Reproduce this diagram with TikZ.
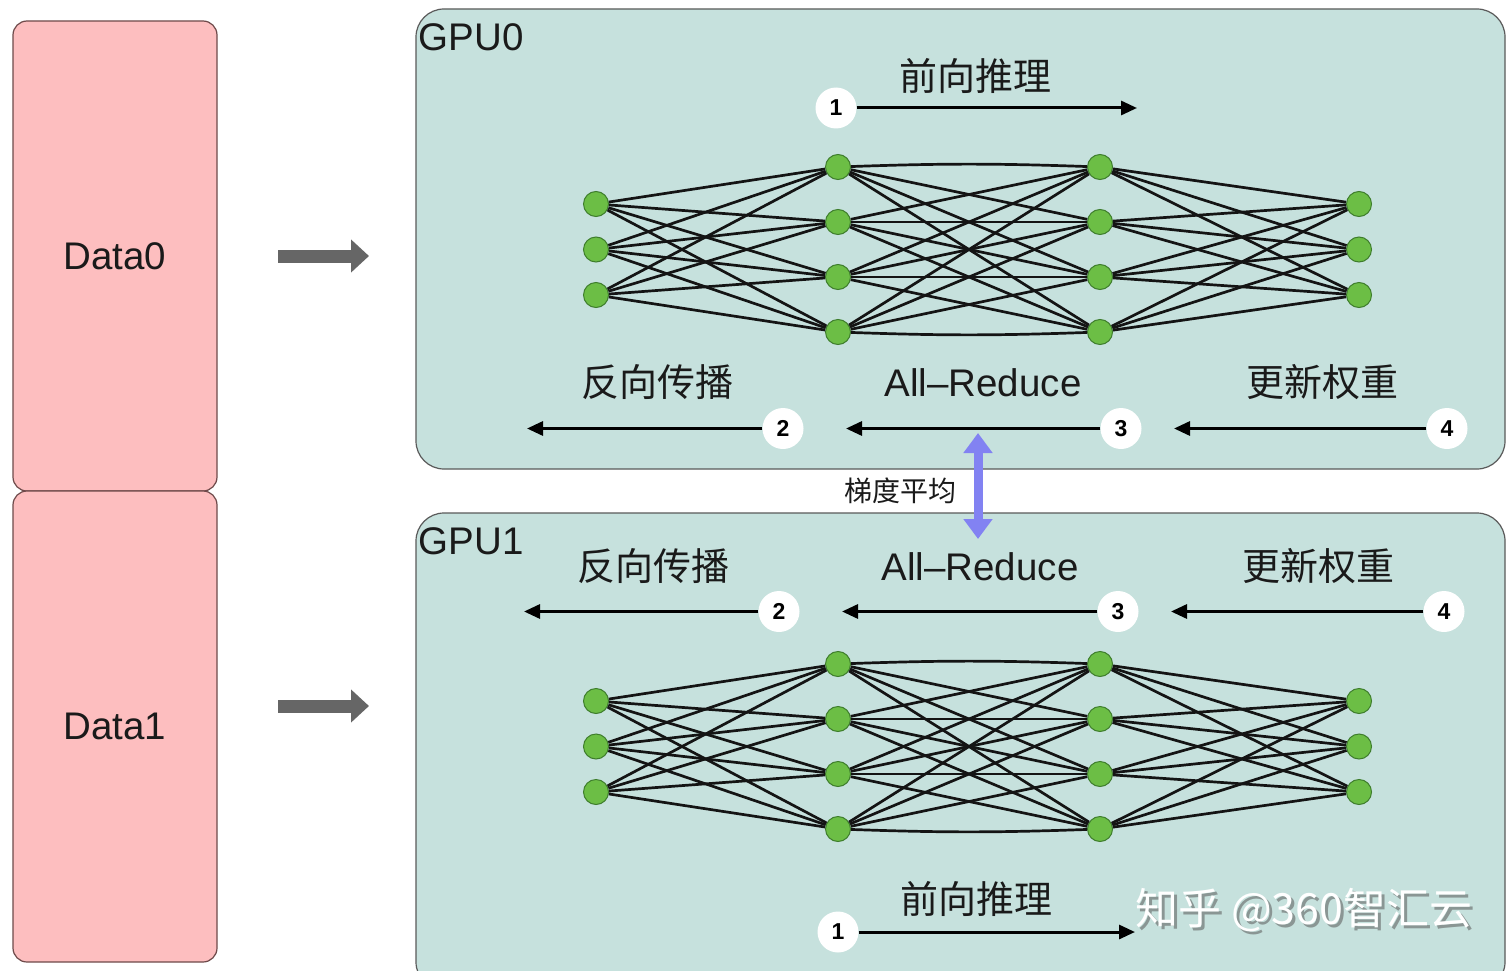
\documentclass[tikz,border=0pt]{standalone}
\usepackage{fontspec}
\setmainfont{Liberation Sans}
\newfontfamily\cjk{Noto Sans CJK SC}
\usetikzlibrary{arrows.meta}

\definecolor{datafill}{HTML}{FDBEBF}
\definecolor{databorder}{HTML}{6E4A4A}
\definecolor{gpufill}{HTML}{C6E1DD}
\definecolor{gpuborder}{HTML}{5A5A5A}
\definecolor{neurongreen}{HTML}{6CBE45}
\definecolor{neuronedge}{HTML}{3E7D2C}
\definecolor{avgblue}{HTML}{8282F2}
\definecolor{feedgray}{HTML}{666666}
\definecolor{inktext}{HTML}{1A1A1A}
\definecolor{markshadow}{HTML}{8A9694}

\tikzset{
  databox/.style={draw=databorder, fill=datafill, line width=1.2pt, rounded corners=14pt,
                  inner sep=0pt, font=\fontsize{38.5}{38.5}\selectfont, text=inktext},
  gpubox/.style={draw=gpuborder, fill=gpufill, line width=1.2pt, rounded corners=28pt, inner sep=0pt},
  neuronnode/.style={circle, fill=neurongreen, draw=neuronedge, line width=1pt,
                     minimum size=25pt, inner sep=0pt},
  link/.style={line width=2.7pt, black!92},
  badge/.style={circle, fill=white, minimum size=41pt, inner sep=0pt,
                font=\fontsize{23}{23}\selectfont\bfseries, text=black},
  stepline/.style={line width=3pt, black, -{Triangle[length=16pt,width=14pt]}},
  cjklabel/.style={font=\cjk\fontsize{38}{38}\selectfont, text=inktext, inner sep=0pt},
  latlabel/.style={font=\fontsize{38.5}{38.5}\selectfont, text=inktext, inner sep=0pt},
  avglabel/.style={font=\cjk\fontsize{28}{28}\selectfont, text=inktext, inner sep=0pt},
  feed/.style={line width=13pt, draw=feedgray, -{Triangle[length=18pt,width=32pt]}},
  avg/.style={line width=9pt, draw=avgblue,
              {Triangle[length=20pt,width=28pt]}-{Triangle[length=20pt,width=28pt]}},
  watermark/.style={font=\cjk\fontsize{43}{43}\selectfont, inner sep=0pt},
}

% fully connected 3-4-4-3 network; #1 = name prefix, #2 = vertical shift
\newcommand\neuralnet[2]{%
  \begin{scope}[shift={(0,#2)}]
    \foreach \k/\y in {1/204,2/249.5,3/295} {
      \node[neuronnode] (#1i\k) at (596,\y) {};
      \node[neuronnode] (#1o\k) at (1359,\y) {};
    }
    \foreach \k/\y in {1/167,2/222,3/277,4/332} {
      \node[neuronnode] (#1h\k) at (838,\y) {};
      \node[neuronnode] (#1g\k) at (1100,\y) {};
    }
  \end{scope}
  \foreach \a in {1,2,3} {
    \foreach \b in {1,...,4} {
      \draw[link] (#1i\a) -- (#1h\b);
      \draw[link] (#1g\b) -- (#1o\a);
    }
  }
  \foreach \a in {1,...,4} {
    \foreach \b in {1,...,4} {
      \ifnum\a=\b
        \ifnum\a=1 \draw[link] (#1h\a) to[bend left=2] (#1g\b);
        \else\ifnum\a=4 \draw[link] (#1h\a) to[bend right=2] (#1g\b);
        \else \draw[link] (#1h\a) -- (#1g\b); \fi\fi
      \else
        \draw[link] (#1h\a) -- (#1g\b);
      \fi
    }
  }
}

\begin{document}
\begin{tikzpicture}[x=1pt,y=-1pt]
  \clip (0,0) rectangle (1506,971);
  \fill[white] (0,0) rectangle (1506,971);

  % data shards
  \node[databox, minimum width=204pt, minimum height=470pt] (data0) at (115,256) {Data0};
  \node[databox, minimum width=204pt, minimum height=471pt] (data1) at (115,726.5) {Data1};

  % feeding arrows
  \coordinate (f0s) at (278,256); \coordinate (f0e) at (369,256);
  \coordinate (f1s) at (278,706); \coordinate (f1e) at (369,706);
  \draw[feed] (f0s) -- (f0e);
  \draw[feed] (f1s) -- (f1e);

  % GPU panels
  \node[gpubox, minimum width=1089pt, minimum height=460pt] (gpu0) at (960.5,239) {};
  \node[gpubox, minimum width=1089pt, minimum height=477pt] (gpu1) at (960.5,751.5) {};
  \node[latlabel, anchor=west] (gpu0t) at (418.5,37) {GPU0};
  \node[latlabel, anchor=west] (gpu1t) at (418.5,541) {GPU1};

  % networks
  \neuralnet{a}{0}
  \neuralnet{b}{497}

  % GPU0 steps
  \node[cjklabel] (a1t) at (975,76) {前向推理};
  \node[badge] (a1) at (836,108) {1};
  \coordinate (a1e) at (1137,108);
  \draw[stepline] (a1) -- (a1e);

  \node[cjklabel] (a2t) at (657,382) {反向传播};
  \node[badge] (a2) at (783,428.5) {2};
  \coordinate (a2e) at (527,428.5);
  \draw[stepline] (a2) -- (a2e);

  \node[latlabel] (a3t) at (983,383) {All–Reduce};
  \node[badge] (a3) at (1121,428.5) {3};
  \coordinate (a3e) at (846,428.5);
  \draw[stepline] (a3) -- (a3e);

  \node[cjklabel] (a4t) at (1322,382) {更新权重};
  \node[badge] (a4) at (1447,428.5) {4};
  \coordinate (a4e) at (1174,428.5);
  \draw[stepline] (a4) -- (a4e);

  % GPU1 steps
  \node[cjklabel] (b2t) at (653,566) {反向传播};
  \node[badge] (b2) at (779,611.5) {2};
  \coordinate (b2e) at (524,611.5);
  \draw[stepline] (b2) -- (b2e);

  \node[latlabel] (b3t) at (980,567) {All–Reduce};
  \node[badge] (b3) at (1118,611.5) {3};
  \coordinate (b3e) at (842,611.5);
  \draw[stepline] (b3) -- (b3e);

  \node[cjklabel] (b4t) at (1318,566) {更新权重};
  \node[badge] (b4) at (1444,611.5) {4};
  \coordinate (b4e) at (1171,611.5);
  \draw[stepline] (b4) -- (b4e);

  \node[cjklabel] (b1t) at (976,899) {前向推理};
  \node[badge] (b1) at (838,932) {1};
  \coordinate (b1e) at (1135,932);
  \draw[stepline] (b1) -- (b1e);

  % gradient averaging between the two GPUs
  \coordinate (avgtop) at (978,433);
  \coordinate (avgbot) at (978,539);
  \draw[avg] (avgtop) -- (avgbot);
  \node[avglabel] (avgt) at (900,491) {梯度平均};

  % watermark
  \node[watermark, text=markshadow] (wms) at (1307,913) {知乎 @360智汇云};
  \node[watermark, text=white] (wm) at (1304,910) {知乎 @360智汇云};
\end{tikzpicture}
\end{document}
